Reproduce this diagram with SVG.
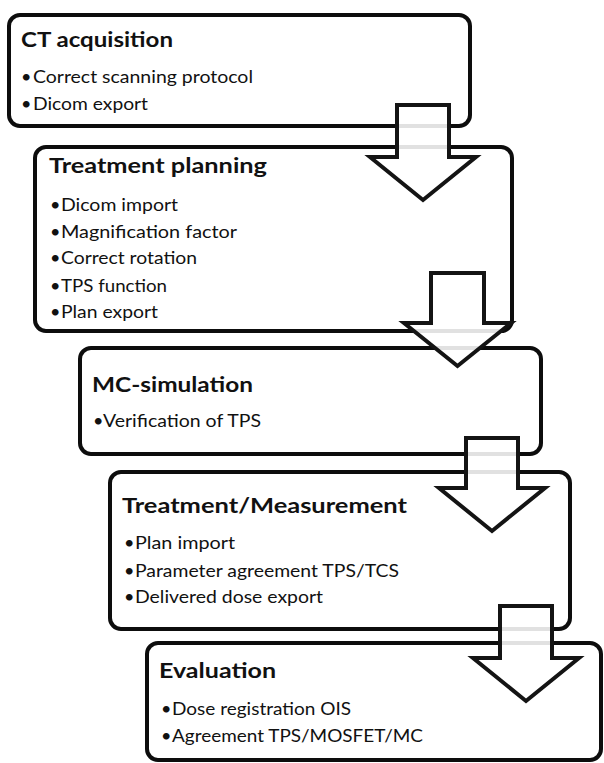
<svg xmlns="http://www.w3.org/2000/svg" width="604" height="763" viewBox="0 0 604 763">
<style>
.box{fill:#fff;stroke:#0d0d0d;stroke-width:4}
.arr{fill:#fff;fill-opacity:0.88;stroke:#141414;stroke-width:4;stroke-linejoin:miter}
.t{font-family:Lato,"Open Sans","Liberation Sans",sans-serif;font-weight:bold;font-size:21px;fill:#111}
.b{font-family:Lato,"Open Sans","Liberation Sans",sans-serif;font-size:18px;fill:#111}
</style>
<rect width="604" height="763" fill="#fff"/>
<g id="node-ct">
<rect class="box" x="9" y="15" width="461" height="111" rx="11"/>
<text class="t" x="21" y="47" textLength="152" lengthAdjust="spacingAndGlyphs">CT acquisition</text>
<text class="b" x="21" y="83">•</text><text class="b" x="33" y="83" textLength="220" lengthAdjust="spacingAndGlyphs">Correct scanning protocol</text>
<text class="b" x="21" y="110">•</text><text class="b" x="33" y="110" textLength="115" lengthAdjust="spacingAndGlyphs">Dicom export</text>
</g>
<g id="node-planning">
<rect class="box" x="35" y="147" width="477" height="184" rx="11"/>
<text class="t" x="49" y="173" textLength="218" lengthAdjust="spacingAndGlyphs">Treatment planning</text>
<text class="b" x="50" y="211">•</text><text class="b" x="61" y="211" textLength="117" lengthAdjust="spacingAndGlyphs">Dicom import</text>
<text class="b" x="50" y="238">•</text><text class="b" x="61" y="238" textLength="176" lengthAdjust="spacingAndGlyphs">Magnification factor</text>
<text class="b" x="50" y="264">•</text><text class="b" x="61" y="264" textLength="136" lengthAdjust="spacingAndGlyphs">Correct rotation</text>
<text class="b" x="50" y="292">•</text><text class="b" x="61" y="292" textLength="106" lengthAdjust="spacingAndGlyphs">TPS function</text>
<text class="b" x="50" y="318">•</text><text class="b" x="61" y="318" textLength="97" lengthAdjust="spacingAndGlyphs">Plan export</text>
</g>
<g id="node-mc">
<rect class="box" x="80" y="348" width="461" height="106" rx="11"/>
<text class="t" x="92" y="392" textLength="161" lengthAdjust="spacingAndGlyphs">MC-simulation</text>
<text class="b" x="93" y="427">•</text><text class="b" x="103" y="427" textLength="158" lengthAdjust="spacingAndGlyphs">Verification of TPS</text>
</g>
<g id="node-treatment">
<rect class="box" x="110" y="472" width="460" height="157" rx="11"/>
<text class="t" x="122" y="513" textLength="285" lengthAdjust="spacingAndGlyphs">Treatment/Measurement</text>
<text class="b" x="124" y="549">•</text><text class="b" x="135" y="549" textLength="100" lengthAdjust="spacingAndGlyphs">Plan import</text>
<text class="b" x="124" y="577">•</text><text class="b" x="135" y="577" textLength="264" lengthAdjust="spacingAndGlyphs">Parameter agreement TPS/TCS</text>
<text class="b" x="124" y="603">•</text><text class="b" x="135" y="603" textLength="188" lengthAdjust="spacingAndGlyphs">Delivered dose export</text>
</g>
<g id="node-evaluation">
<rect class="box" x="147" y="643" width="454" height="117" rx="11"/>
<text class="t" x="159" y="678" textLength="117" lengthAdjust="spacingAndGlyphs">Evaluation</text>
<text class="b" x="161" y="715">•</text><text class="b" x="172" y="715" textLength="179" lengthAdjust="spacingAndGlyphs">Dose registration OIS</text>
<text class="b" x="161" y="742">•</text><text class="b" x="172" y="742" textLength="251" lengthAdjust="spacingAndGlyphs">Agreement TPS/MOSFET/MC</text>
</g>
<g id="connectors">
<polygon class="arr" points="397,105 449,105 449,157 476,157 423,200 370,157 397,157"/>
<polygon class="arr" points="431,273 484,273 484,323 511,323 457.5,366 404,323 431,323"/>
<polygon class="arr" points="466,438 518,438 518,488 545,488 492,531 439,488 466,488"/>
<polygon class="arr" points="500,606 552,606 552,658 579,658 526,701 473,658 500,658"/>
</g>
</svg>
